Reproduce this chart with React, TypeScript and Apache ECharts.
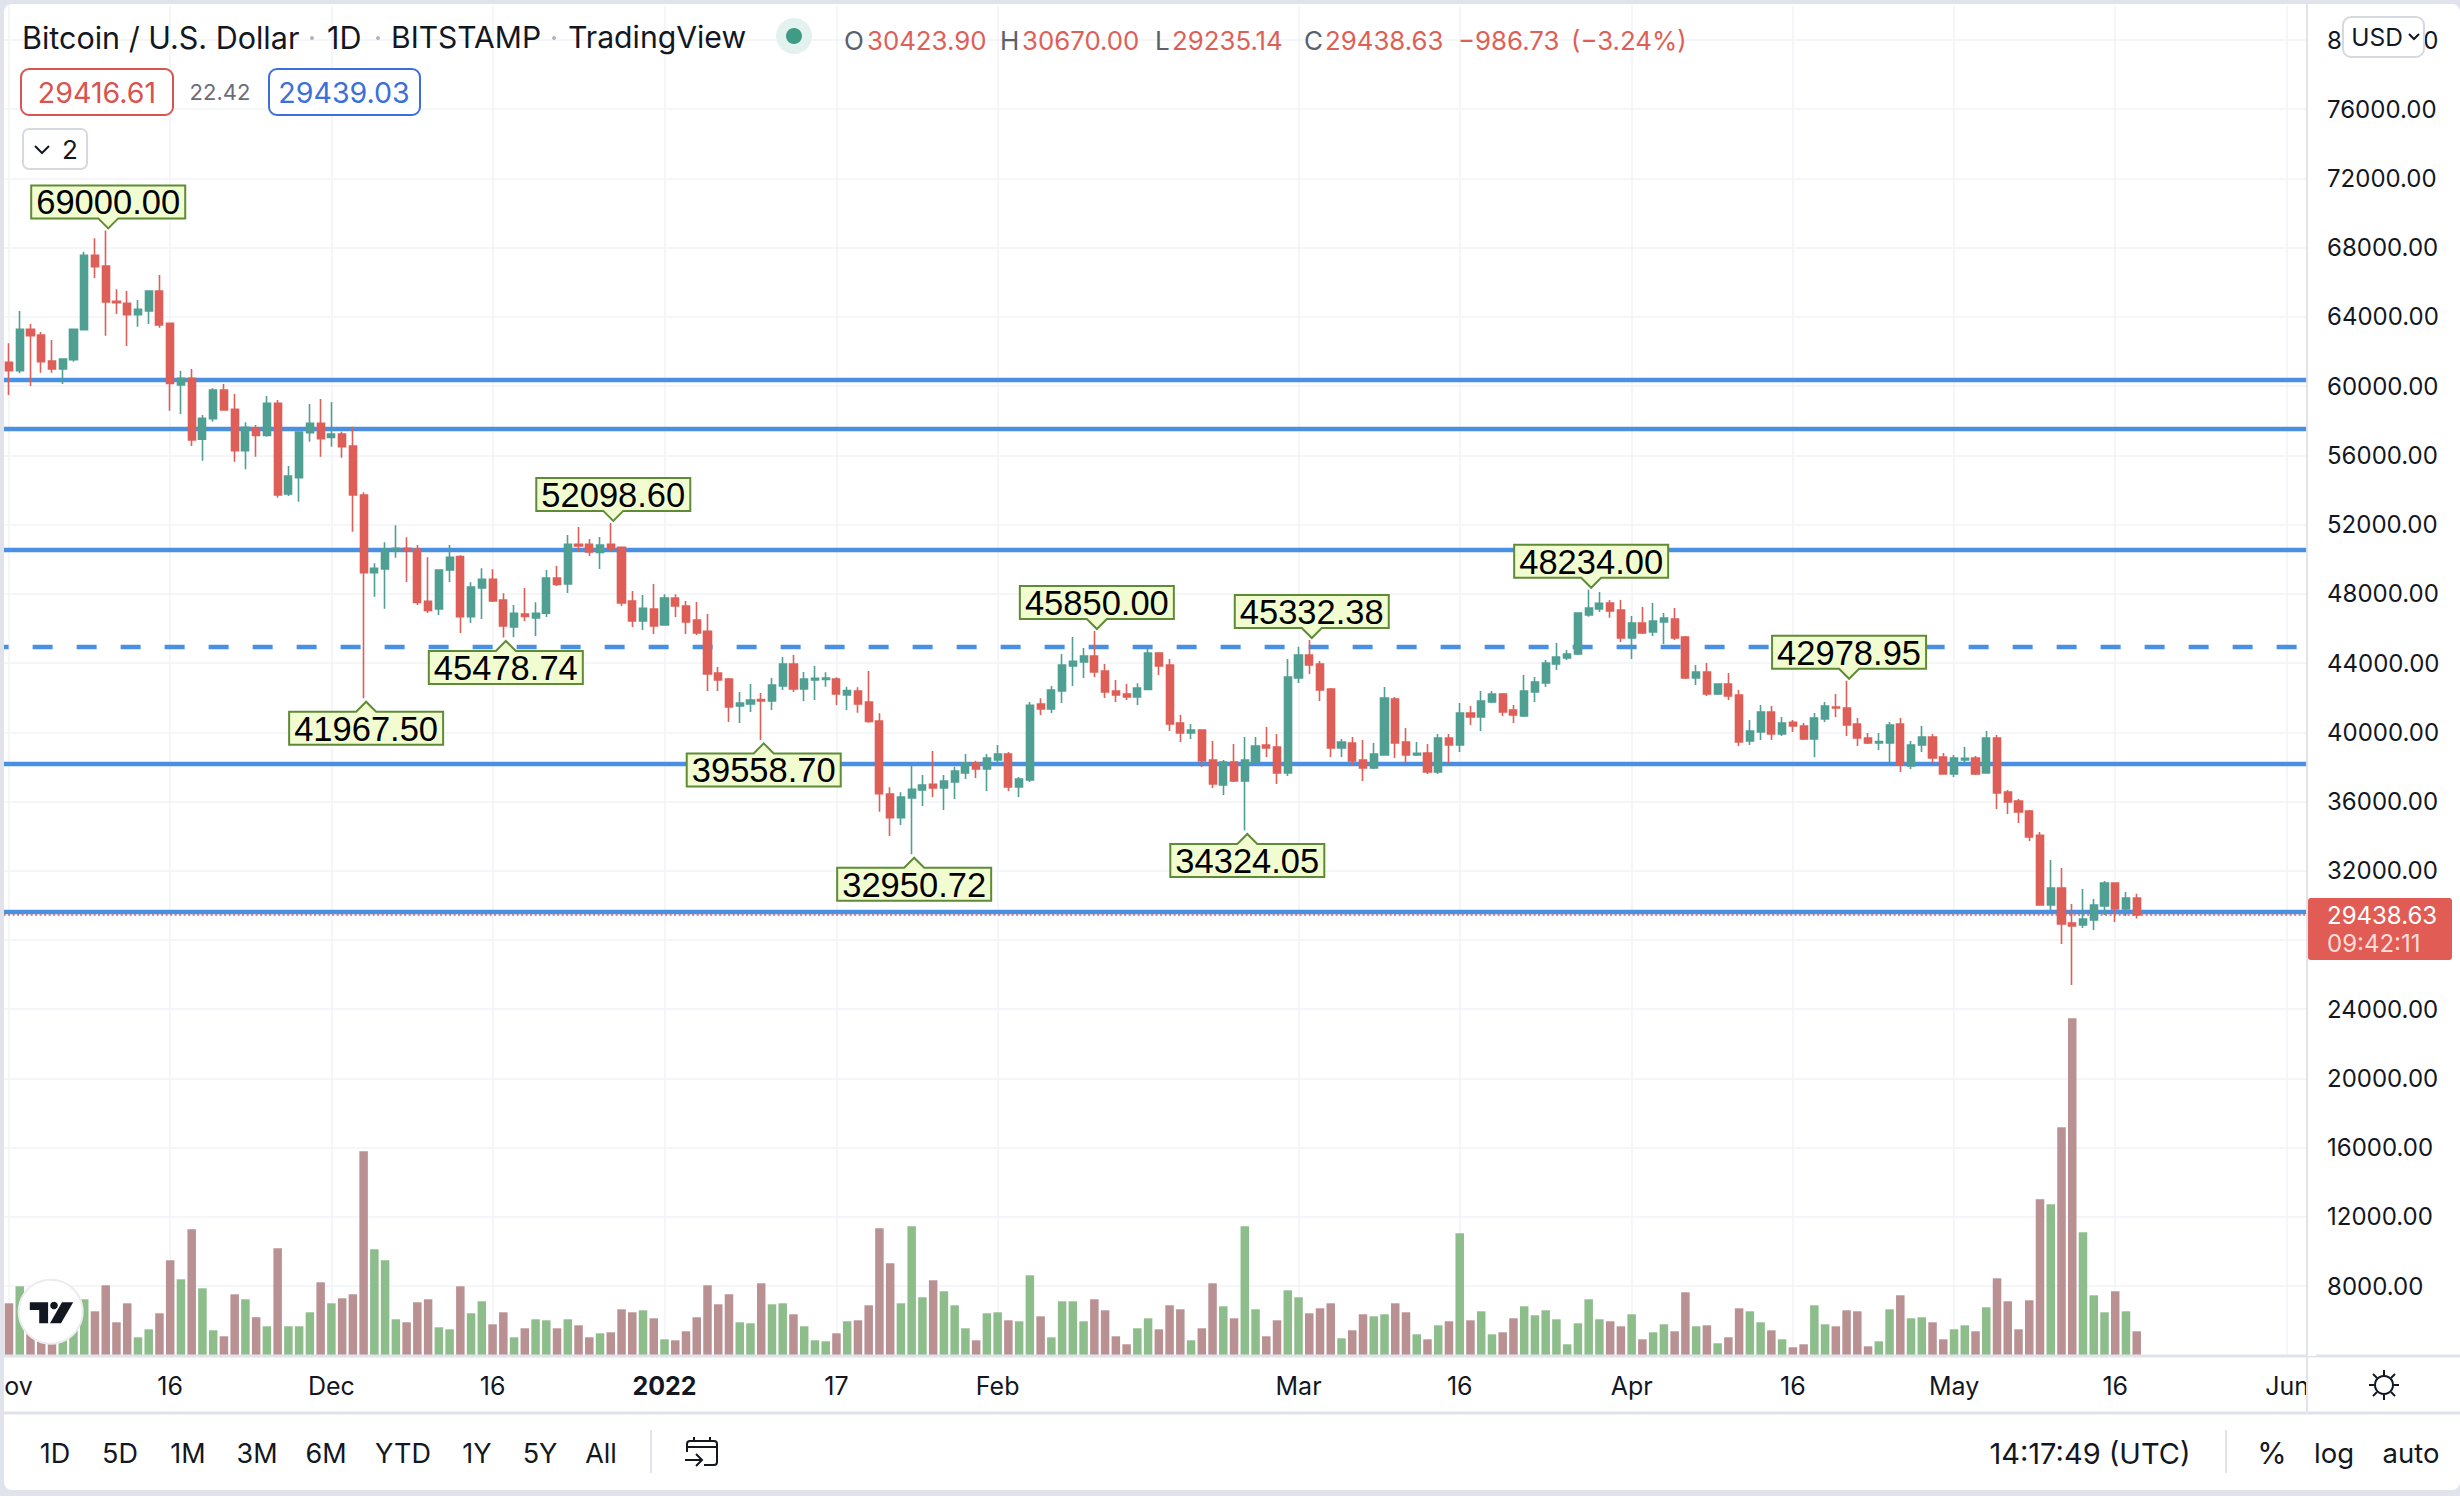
import React, { useEffect, useRef } from "react";
import * as echarts from "echarts";

const FONT = "Inter";
const LABEL_FONT = '"Liberation Sans"';

// [open, close, low, high], one row per day from 2021-11-01
const candleValues: number[][] = [
  [61376,60894,59488,62473],[60894,63282,60740,64342],[63282,62916,60008,63590],[62955,61414,60779,63128],[61453,60990,60779,62666],
  [60990,61568,60124,61607],[61530,63282,61414,63290],[63263,67558,63244,67770],[67558,66903,66248,68540],[66942,64862,62916,69000],
  [64900,64823,64168,65594],[64785,64130,62319,65497],[64130,64438,63436,64977],[64342,65497,63590,65510],[65497,63533,63379,66422],
  [63629,60162,58583,63668],[60066,60451,58390,60875],[60451,56888,56541,60990],[56927,58140,55694,58332],[58121,59777,57947,59873],
  [59777,58621,58583,60124],[58660,56272,55636,59546],[56272,57620,55193,57909],[57562,57158,55925,57755],[57158,59007,57081,59430],
  [59007,53710,53556,59199],[53768,54808,53652,55386],[54712,57350,53325,57369],[57312,57851,56792,58968],[57851,56965,55925,59257],
  [57042,57235,56503,59084],[57235,56503,55867,57369],[56541,53710,51591,57658],[53710,49222,41967.5,53864],[49222,49473,47836,49762],
  [49434,50571,47142,50975],[50532,50628,50089,51957],[50628,50532,48683,51264],[50571,47508,47354,50821],[47566,47046,46892,50108],
  [47123,49376,46776,49415],[49376,50108,48683,50821],[50147,46680,45736,50224],[46680,48394,46314,48664],[48336,48837,46545,49473],
  [48837,47585,47527,49415],[47643,46141,45478.74,48028],[46083,46873,45505,47354],[46834,46699,46430,48336],[46603,46873,45563,47508],
  [46873,48914,46661,49376],[48914,48548,48452,49608],[48567,50859,48047,51399],[50859,50763,50474,51861],[50859,50416,50185,51168],
  [50397,50821,49434,51283],[50859,50590,50474,52098.6],[50686,47470,47296,50705],[47585,46430,46083,48163],[46430,47161,45910,47932],
  [47123,46141,45678,48567],[46198,47759,46198,47970],[47759,47296,46661,47970],[47296,46372,45678,47585],[46487,45736,45621,47527],
  [45833,43367,42385,46834],[43425,43021,42385,43772],[43078,41461,40594,43136],[41518,41692,40536,42327],[41634,41865,41172,42789],
  [41884,41807,39558.7,42269],[41807,42732,41287,43136],[42674,43945,42443,44350],[43945,42501,42327,44465],[42501,43078,41807,43483],
  [43021,43117,41865,43830],[43059,43136,42635,43464],[43078,42212,41576,43175],[42154,42404,41287,42635],[42385,41634,41133,42597],
  [41749,40632,40555,43541],[40652,36453,35413,41095],[36434,35066,34007,36819],[35066,36260,34642,36530],[36203,36703,32950.72,38052],
  [36665,36954,35740,37531],[36992,36780,36260,38918],[36780,37185,35509,37531],[37127,37763,36145,38013],[37647,38225,37300,38745],
  [38225,37878,37358,38360],[37878,38514,36607,38745],[38398,38745,38109,39265],[38745,36838,36607,38860],[36838,37300,36260,37416],
  [37243,41557,37127,41749],[41634,41345,40998,41961],[41345,42443,41114,42674],[42385,43887,41692,44523],[43830,44099,42674,45505],
  [44061,44407,43136,44870],[44407,43483,43194,45850],[43541,42327,41981,43945],[42385,42154,41749,43021],[42212,42038,41865,42789],
  [42038,42558,41576,42828],[42481,44581,42443,44812],[44581,43830,43310,44590],[43887,40478,40074,44234],[40536,39958,39438,40998],
  [39958,40132,39612,40478],[40132,38340,37994,40140],[38398,37011,36780,39496],[36954,38283,36376,38398],[38283,37185,37127,39323],
  [37185,38398,34324.05,39727],[38283,39207,38167,39727],[39265,39092,38572,40305],[39149,37647,37011,39900],[37647,43194,37474,44234],
  [43136,44465,42847,44947],[44465,43887,43367,45332.38],[43945,42443,41807,44118],[42501,39092,38572,42558],[39092,39438,38572,39612],
  [39380,38340,38109,39727],[38398,37936,37185,39554],[37936,38745,37878,39380],[38687,41981,38687,42616],[41923,39380,38514,42038],
  [39438,38687,38167,40247],[38687,38783,38629,39438],[38803,37705,37589,39323],[37705,39669,37589,39900],[39669,39265,38167,39900],
  [39265,41114,38860,41692],[41114,40883,40420,41518],[40883,41807,40074,42385],[41749,42212,41672,42385],[42212,41172,40941,42269],
  [41287,40998,40536,41576],[40941,42385,40883,43310],[42327,42905,41749,43194],[42847,44003,42616,44176],[43945,44350,43598,45158],
  [44292,44523,44176,44754],[44523,46892,44465,46930],[46776,47181,46680,48234],[47123,47450,46950,48105],[47470,47007,46622,47643],
  [47065,45447,45216,47643],[45447,46314,44234,46719],[46314,45736,45678,47239],[45794,46430,45563,47470],[46372,46603,45101,46892],
  [46545,45447,45332,47181],[45505,43136,43078,45563],[43136,43483,42732,43887],[43483,42212,42096,44003],[42212,42789,42154,42828],
  [42789,42096,41865,43425],[42154,39438,39207,42443],[39496,40074,39265,40709],[40016,41172,39554,41576],[41172,39900,39554,41518],
  [39900,40536,39785,40883],[40575,40363,40016,40709],[40363,39612,39554,40536],[39612,40825,38572,41114],[40767,41518,40594,41749],
  [41461,41403,40883,42212],[41403,40421,39785,42978.95],[40478,39669,39207,40825],[39669,39380,39323,39958],[39380,39457,38976,39958],
  [39380,40421,38206,40594],[40478,38109,37705,40825],[38052,39265,37878,39496],[39265,39727,38860,40363],[39727,38514,38225,39900],
  [38572,37589,37589,38803],[37589,38514,37416,38687],[38398,38494,38167,39149],[38514,37589,37531,38629],[37647,39669,37647,40074],
  [39669,36491,35567,39843],[36549,35971,35278,36665],[36029,35394,34758,36145],[35451,33949,33718,35509],[34045,30020,30020,34238],
  [30020,31002,29731,32620],[31002,28922,27767,32158],[28980,28807,25401,30078],[28864,29211,28691,30945],[29153,30020,28576,30367],
  [29962,31291,29442,31407],[31291,29789,29038,31300],[29789,30425,29384,30771],[30423.9,29438.63,29235.14,30670],
];

const volumes: number[] = [
  3005,3987,2119,1733,1348,1926,2504,3236,2542,4045,1907,3005,1040,1502,2427,5489,4391,7280,3871,1444,
  1098,3525,3236,2196,1676,6182,1676,1676,2485,4218,3005,3293,3525,11787,6125,5489,2080,1907,3062,3236,
  1618,1502,3987,2427,3120,1791,2485,1040,1560,2080,2022,1560,2080,1733,1040,1271,1329,2658,2485,2600,
  2138,924,867,1387,2196,4045,2947,3525,1907,1849,4160,2947,3005,2369,1676,867,809,1271,1965,2022,
  2889,7338,5316,3005,7454,3351,4334,3698,2889,1560,867,2427,2485,2022,1965,4622,2253,1040,3120,3120,
  1965,3236,2600,1098,636,1560,2138,1502,2889,2658,867,1560,4160,2831,2138,7454,2658,1098,2022,3756,
  3351,2427,2716,3005,982,1444,2369,2253,2369,3005,2485,1213,924,1733,1965,7049,2022,2542,1213,1329,
  2138,2831,2311,2600,2080,636,1849,3236,2080,1965,1676,2369,924,1329,1791,1387,3640,1676,1733,693,
  1040,2716,2542,1907,1444,924,462,636,2889,1791,1676,2600,2542,520,809,2658,3467,2138,2196,1907,
  924,1502,1733,1387,2773,4449,3120,1502,3178,9014,8725,13174,19472,7107,3467,2485,3698,2542,1387,
];

const tickDates = ["2021-11-01","2021-11-16","2021-12-01","2021-12-16","2022-01-01","2022-01-17","2022-02-01","2022-03-01","2022-03-16","2022-04-01","2022-04-16","2022-05-01","2022-05-16","2022-06-01"];
const tickLabels = ["Nov","16","Dec","16","2022","17","Feb","Mar","16","Apr","16","May","16","Jun"];

const calloutDates = ["2021-11-10","2021-12-04","2021-12-17","2021-12-27","2022-01-10","2022-01-24","2022-02-10","2022-02-24","2022-03-02","2022-03-28","2022-04-21"];
const calloutPrices = [69000.0,41967.5,45478.74,52098.6,39558.7,32950.72,45850.0,34324.05,45332.38,48234.0,42978.95];
const calloutAbove = [true,false,false,true,false,false,true,false,true,true,true];

const solidLevels = [60374,57543,50551,38167,29616];
const dashedLevel = 44966;
const lastPrice = 29438.63;

const dayCount = 215;
const firstDay = Date.UTC(2021, 10, 1);
const categories: string[] = [];
for (let i = 0; i < dayCount; i++) {
  categories.push(new Date(firstDay + i * 86400000).toISOString().slice(0, 10));
}

const UP = "#4f9f92";
const DOWN = "#de5f58";
const UP_VOL = "#8dbd8b";
const DOWN_VOL = "#b99192";
const BLUE = "#4a90e2";
const GRID = "#f1f3f8";
const EDGE = "#e0e3eb";
const INK = "#131722";

const text = (s: string, x: number, y: number, size: number, fill = INK, align = "left", weight = "normal") => ({
  type: "text", x, y, z: 60, silent: true,
  style: { text: s, fill, fontSize: size, fontFamily: FONT, fontWeight: weight, align, verticalAlign: "middle" },
});
const rect = (x: number, y: number, width: number, height: number, fill: string, stroke?: string, r = 0, lw = 2, z = 55) => ({
  type: "rect", z, silent: true, shape: { x, y, width, height, r },
  style: { fill, stroke: stroke || undefined, lineWidth: stroke ? lw : 0 },
});
const line = (x1: number, y1: number, x2: number, y2: number, stroke: string, lineWidth = 2, z = 52) => ({
  type: "line", z, silent: true, shape: { x1, y1, x2, y2 }, style: { stroke, lineWidth },
});
const poly = (points: number[][], stroke: string, lineWidth = 2) => ({
  type: "polyline", z: 60, silent: true, shape: { points }, style: { stroke, lineWidth, fill: "none" },
});

function overlay(): any[] {
  const sun: any[] = [{ type: "circle", z: 60, silent: true, shape: { cx: 2384, cy: 1385, r: 9 }, style: { fill: "none", stroke: INK, lineWidth: 2 } }];
  for (const [a, b, c, d] of [[2384,1370,2384,1375],[2384,1395,2384,1400],[2369,1385,2374,1385],[2394,1385,2399,1385],[2373,1374,2377,1378],[2391,1392,2395,1396],[2373,1396,2377,1392],[2391,1378,2395,1374]]) {
    sun.push(line(a, b, c, d, INK, 2, 60));
  }
  return [
    // edges, panels
    rect(0, 0, 4, 1496, EDGE),
    rect(2308, 4, 8, 1352, "#ffffff"),
    line(4, 1356, 2460, 1356, EDGE, 3),
    line(4, 1413, 2460, 1413, EDGE, 3),
    line(2307, 4, 2307, 1413, EDGE, 2),
    // legend
    text("Bitcoin / U.S. Dollar", 22, 37, 30.5),
    text("1D", 327, 37, 30.5),
    text("BITSTAMP", 391, 37, 30),
    text("TradingView", 568, 37, 30.2),
    { type: "circle", z: 60, silent: true, shape: { cx: 312, cy: 38, r: 2 }, style: { fill: "#b2b5be" } },
    { type: "circle", z: 60, silent: true, shape: { cx: 378, cy: 38, r: 2 }, style: { fill: "#b2b5be" } },
    { type: "circle", z: 60, silent: true, shape: { cx: 554, cy: 38, r: 2 }, style: { fill: "#b2b5be" } },
    { type: "circle", z: 60, silent: true, shape: { cx: 794, cy: 36, r: 18 }, style: { fill: "#e4f2ef" } },
    { type: "circle", z: 61, silent: true, shape: { cx: 794, cy: 36, r: 8 }, style: { fill: "#3f9a86" } },
    text("O", 844, 40, 26, "#5d606b"),
    text("30423.90", 867, 40, 25.8, DOWN),
    text("H", 1000, 40, 26, "#5d606b"),
    text("30670.00", 1022, 40, 25.8, DOWN),
    text("L", 1155, 40, 26, "#5d606b"),
    text("29235.14", 1172, 40, 25.8, DOWN),
    text("C", 1304, 40, 26, "#5d606b"),
    text("29438.63", 1325, 40, 25.8, DOWN),
    text("\u2212986.73", 1458, 40, 25.8, DOWN),
    text("(\u22123.24%)", 1571, 40, 25.8, DOWN),
    // bid/ask
    rect(21, 69, 152, 46, "#ffffff", "#d9534f", 8),
    text("29416.61", 97, 92, 28.6, "#d9534f", "center"),
    text("22.42", 220, 92, 22, "#6a6d78", "center"),
    rect(269, 69, 151, 46, "#ffffff", "#3b6fdc", 8),
    text("29439.03", 344, 92, 28.6, "#3b6fdc", "center"),
    rect(23, 129, 64, 40, "#ffffff", "#d6d9e0", 6),
    poly([[35, 146], [42, 153], [49, 146]], INK, 2),
    text("2", 70, 149, 26, INK, "center"),
    // USD selector over the top tick label
    rect(2343, 17, 81, 40, "#ffffff", "#d6d9e0", 8),
    text("USD", 2377, 37, 24.5, INK, "center"),
    poly([[2409, 34], [2414, 39], [2419, 34]], INK, 2),
    // last price tag
    rect(2308, 898, 144, 62, "#e05c55", undefined, 3),
    text("29438.63", 2327, 915, 24, "#ffffff"),
    text("09:42:11", 2327, 943, 24, "#fbdcd9"),
    // logo
    { type: "circle", z: 60, silent: true, shape: { cx: 50.7, cy: 1311.7, r: 32 }, style: { fill: "#ffffff", stroke: "#ececf0", lineWidth: 2 } },
    { type: "polygon", z: 61, silent: true, shape: { points: [[29.8,1302.3],[48.1,1302.3],[48.1,1323.3],[39.2,1323.3],[39.2,1310],[29.8,1310]] }, style: { fill: INK } },
    { type: "polygon", z: 61, silent: true, shape: { points: [[62,1302.3],[73.2,1302.3],[61,1323.3],[50,1323.3]] }, style: { fill: INK } },
    { type: "circle", z: 61, silent: true, shape: { cx: 54, cy: 1305.5, r: 3.8 }, style: { fill: INK } },
    // settings
    ...sun,
    // bottom toolbar
    text("1D", 55, 1453, 27, INK, "center"),
    text("5D", 120, 1453, 27, INK, "center"),
    text("1M", 188, 1453, 27, INK, "center"),
    text("3M", 257, 1453, 27, INK, "center"),
    text("6M", 326, 1453, 27, INK, "center"),
    text("YTD", 403, 1453, 27, INK, "center"),
    text("1Y", 477, 1453, 27, INK, "center"),
    text("5Y", 540, 1453, 27, INK, "center"),
    text("All", 601, 1453, 27, INK, "center"),
    line(651, 1430, 651, 1473, EDGE, 2),
    { type: "rect", z: 60, silent: true, shape: { x: 687, y: 1441, width: 30, height: 24, r: 3 }, style: { fill: "none", stroke: INK, lineWidth: 2 } },
    rect(684, 1452, 20, 15, "#ffffff", undefined, 0, 0, 60),
    line(687, 1447, 717, 1447, INK, 2, 61),
    line(694, 1437, 694, 1442, INK, 2, 61),
    line(710, 1437, 710, 1442, INK, 2, 61),
    line(685, 1460, 702, 1460, INK, 2, 61),
    poly([[696, 1454], [702, 1460], [696, 1466]], INK, 2),
    text("14:17:49 (UTC)", 2090, 1453, 29, INK, "center"),
    line(2226, 1430, 2226, 1473, EDGE, 2),
    text("%", 2272, 1453, 30, INK, "center"),
    text("log", 2334, 1453, 27.5, INK, "center"),
    text("auto", 2411, 1453, 27.5, INK, "center"),
  ];
}

function renderCallout(params: any, api: any) {
  const i = params.dataIndex;
  const p = api.coord([api.value(0), api.value(1)]);
  const above = calloutAbove[i];
  const bx = p[0] + 2.5;
  const tip = above ? p[1] - 2 : p[1] + 3.5;
  const near = above ? tip - 10 : tip + 10;
  const far = above ? near - 33 : near + 33;
  const w = 77;
  return {
    type: "group",
    children: [
      {
        type: "polygon",
        shape: { points: [[bx - w, far], [bx + w, far], [bx + w, near], [bx + 10, near], [bx, tip], [bx - 10, near], [bx - w, near]] },
        style: { fill: "#f1fdd0", stroke: "#5f8b37", lineWidth: 2 },
      },
      {
        type: "text",
        style: {
          text: calloutPrices[i].toFixed(2), x: bx, y: (near + far) / 2 + 0.5, fill: "#000000",
          font: `34.5px ${LABEL_FONT}`, align: "center", verticalAlign: "middle",
        },
      },
    ],
  };
}

export default function App() {
  const ref = useRef<HTMLDivElement>(null);
  useEffect(() => {
    if (!ref.current) return;
    const chart = echarts.init(ref.current, undefined, { renderer: "svg" });
    chart.setOption({
      animation: false,
      grid: { left: 3.63, top: 5.4, width: 2310.4, height: 1349.9, containLabel: false, outerBoundsMode: "none" },
      xAxis: {
        type: "category", data: categories, boundaryGap: true,
        axisLine: { show: false }, axisTick: { show: false }, splitLine: { show: false },
        axisLabel: {
          margin: 18, fontFamily: FONT, fontSize: 25, color: INK, hideOverlap: false,
          interval: (_: number, v: string) => tickDates.includes(v),
          formatter: (v: string) => {
            const s = tickLabels[tickDates.indexOf(v)] || "";
            return s === "2022" ? `{b|${s}}` : s;
          },
          rich: { b: { fontFamily: FONT, fontSize: 25, fontWeight: "bold", color: INK } },
        },
      },
      yAxis: [
        {
          type: "value", position: "right", min: 4000, max: 82000, interval: 4000, scale: false,
          axisLine: { show: false }, axisTick: { show: false },
          splitLine: { show: true, showMinLine: false, showMaxLine: false, lineStyle: { color: GRID, width: 1.5 } },
          axisLabel: {
            margin: 13, fontFamily: FONT, fontSize: 24, color: INK, showMinLabel: false, showMaxLabel: false,
            formatter: (v: number) => (v === 28000 ? "" : v.toFixed(2)),
          },
        },
        { type: "value", position: "right", min: 0, max: 78000, show: false, splitLine: { show: false } },
      ],
      series: [
        {
          type: "bar", name: "Volume", xAxisIndex: 0, yAxisIndex: 1, data: volumes, barWidth: 8.5, z: 2, silent: true,
          itemStyle: { color: (p: any) => (candleValues[p.dataIndex][1] >= candleValues[p.dataIndex][0] ? UP_VOL : DOWN_VOL) },
          markLine: {
            silent: true, symbol: "none", z: 1, label: { show: false }, animation: false,
            lineStyle: { color: GRID, width: 1.5, type: "solid" },
            data: tickDates.map((d) => ({ xAxis: d })),
          },
        },
        {
          type: "candlestick", name: "BTCUSD", xAxisIndex: 0, yAxisIndex: 0, data: candleValues, barWidth: 7.6, z: 3, silent: true,
          itemStyle: { color: UP, color0: DOWN, borderColor: UP, borderColor0: DOWN, borderWidth: 1.6 },
          markLine: {
            silent: true, symbol: "none", z: 1, label: { show: false }, animation: false,
            data: [
              ...solidLevels.map((v) => ({ yAxis: v, lineStyle: { color: BLUE, width: 4.4, type: "solid" } })),
              { yAxis: dashedLevel, lineStyle: { color: BLUE, width: 4.4, type: [20, 24], dashOffset: 14.6 } },
              { yAxis: lastPrice, lineStyle: { color: DOWN, width: 1.5, type: [2, 2.5] } },
            ],
          },
        },
        {
          type: "custom", name: "Callouts", xAxisIndex: 0, yAxisIndex: 0, z: 10, silent: true, clip: false,
          data: calloutDates.map((d, i) => [d, calloutPrices[i]]),
          encode: { x: 0, y: 1 },
          renderItem: renderCallout,
        },
      ],
      graphic: overlay(),
    });
    return () => chart.dispose();
  }, []);
  return (
    <div style={{ position: "fixed", left: 0, top: 0, width: 2460, height: 1496, background: EDGE, overflow: "hidden" }}>
      <div style={{ position: "absolute", left: 4, top: 4, width: 2456, height: 1486, background: "#ffffff", borderRadius: 8 }} />
      <div ref={ref} style={{ position: "absolute", left: 0, top: 0, width: 2460, height: 1496 }} />
    </div>
  );
}
